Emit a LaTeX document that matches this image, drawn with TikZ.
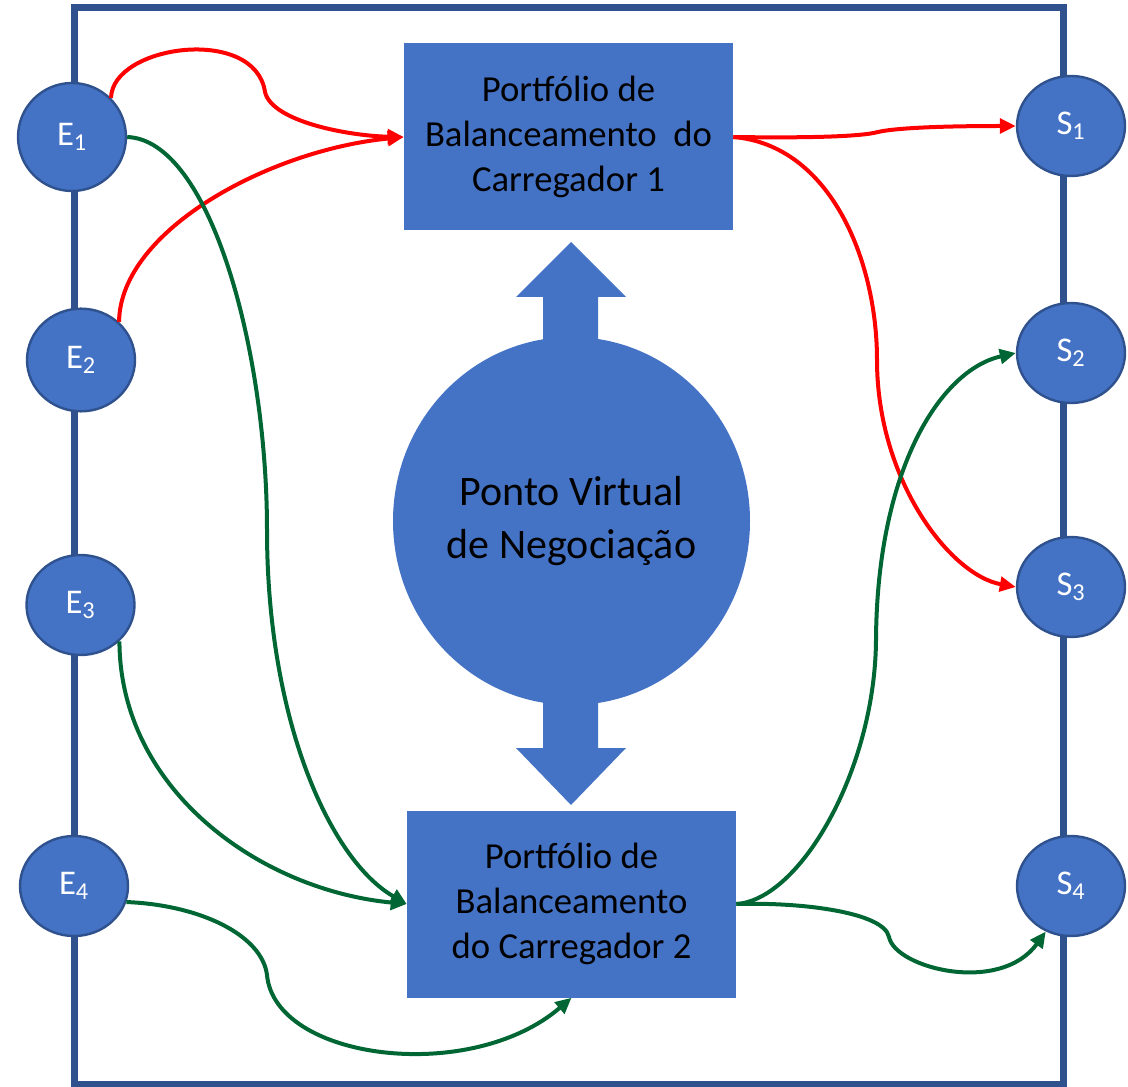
\documentclass[tikz,border=0pt]{standalone}
\usepackage{fontspec}
\setmainfont{Carlito}
\usetikzlibrary{arrows.meta,shapes.geometric}
\definecolor{pvnblue}{HTML}{4472C4}
\definecolor{pvnedge}{HTML}{2F528F}
\definecolor{pvngreen}{RGB}{0,102,51}
\newcommand{\sub}[2]{#1\textsubscript{#2}}

\begin{document}
\begin{tikzpicture}[x=0.75pt,y=-0.75pt]
  \tikzset{ponto/.style={ellipse,draw=pvnedge,line width=1.8pt,fill=pvnblue,text=white,
                         minimum width=81pt,minimum height=75pt,inner sep=0pt,
                         font=\fontsize{26}{30}\selectfont},
           porta/.style={rectangle,fill=pvnblue,minimum width=246.75pt,minimum height=140.25pt,
                         inner sep=0pt,align=center,font=\fontsize{27.5}{33.75}\selectfont},
           fluxo/.style={line width=3pt,-{Triangle[length=12pt,width=11pt]}},
           vermelho/.style={fluxo,draw=red},
           verde/.style={fluxo,draw=pvngreen}}
  \useasboundingbox (0,0) rectangle (1128,1087);
  \draw[pvnedge,line width=5.25pt] (74,8) rectangle (1063,1084);

  \fill[pvnblue] (571,242) -- (626,297) -- (598,297) -- (598,748) -- (626,748) -- (571,805)
                 -- (516,748) -- (543,748) -- (543,297) -- (516,297) -- cycle;
  \node[ellipse,fill=pvnblue,minimum width=267.75pt,minimum height=276pt,inner sep=0pt,
        align=center,font=\fontsize{31.5}{39.75}\selectfont] (pvn) at (571.5,521)
        {Ponto Virtual\\de Negociação};

  \node[porta] (port1) at (568.5,137) {Portfólio de\\Balanceamento\ \ do\\Carregador 1};
  \node[porta] (port2) at (571.5,904) {Portfólio de\\Balanceamento\\do Carregador 2};

  \node[ponto,minimum height=81pt] (E1) at (72,137) {\sub{E}{1}};
  \node[ponto,minimum height=77pt] (E2) at (81,360) {\sub{E}{2}};
  \node[ponto] (E3) at (80.5,605) {\sub{E}{3}};
  \node[ponto] (E4) at (74,886) {\sub{E}{4}};
  \node[ponto] (S1) at (1071,126) {\sub{S}{1}};
  \node[ponto] (S2) at (1071,353) {\sub{S}{2}};
  \node[ponto] (S3) at (1071,587) {\sub{S}{3}};
  \node[ponto] (S4) at (1071,886) {\sub{S}{4}};

  \draw[vermelho] (E1.45) .. controls (112,45) and (255,25) .. (265,92)
                  .. controls (272,122) and (350,136) .. (port1.west);
  \draw[vermelho] (E2.45) .. controls (120,230) and (270,150) .. (port1.west);
  \draw[vermelho] (port1.east) .. controls (800,138) and (860,137) .. (878,132)
                  .. controls (900,127) and (960,126) .. (S1.west);
  \draw[vermelho] (port1.east) .. controls (830,145) and (877,260) .. (877,360)
                  .. controls (877,480) and (950,575) .. (S3.west);

  \draw[verde] (E1.east) .. controls (210,140) and (267,350) .. (267,530)
               .. controls (267,720) and (330,860) .. (port2.west);
  \draw[verde] (E3.-43) .. controls (120,790) and (260,890) .. (port2.west);
  \draw[verde] (E4.-17) .. controls (200,905) and (262,935) .. (267,975)
               .. controls (275,1060) and (470,1085) .. (port2.south);
  \draw[verde] (port2.east) .. controls (800,900) and (875,770) .. (876,640)
               .. controls (877,470) and (940,370) .. (S2.west);
  \draw[verde] (port2.east) .. controls (800,902) and (884,912) .. (889,937)
               .. controls (895,968) and (1000,995) .. (S4.-119);
\end{tikzpicture}
\end{document}
